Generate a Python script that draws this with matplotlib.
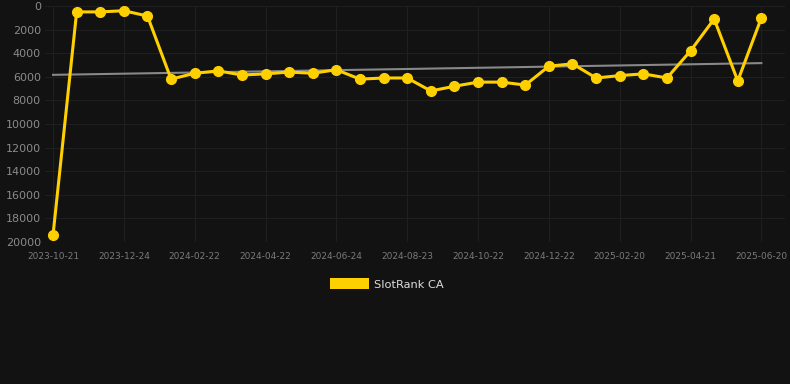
import numpy as np
import matplotlib
matplotlib.use("Agg")
import matplotlib.pyplot as plt
from matplotlib.patches import Patch

# one point roughly every 20 days, date label on every third point
tick_labels = ["2023-10-21", "2023-12-24", "2024-02-22", "2024-04-22", "2024-06-24",
               "2024-08-23", "2024-10-22", "2024-12-22", "2025-02-20", "2025-04-21",
               "2025-06-20"]
rank = [19400, 500, 500, 400, 850, 6200, 5700, 5500, 5850, 5750, 5600,
        5700, 5400, 6200, 6100, 6100, 7200, 6800, 6450, 6450, 6700, 5100,
        4900, 6100, 5900, 5750, 6100, 3800, 1100, 6350, 1000]
y_ticks = list(range(0, 20001, 2000))

bg = "#121212"
yellow = "#FFD000"

x = np.arange(len(rank))
slope, icpt = np.polyfit(x, rank, 1)

fig = plt.figure(figsize=(7.9, 3.84), dpi=100, facecolor=bg)
ax = fig.add_axes([45 / 790, 1 - 242 / 384, 740 / 790, 236 / 384])
ax.set_facecolor(bg)

ax.plot(x, slope * x + icpt, color="#888888", lw=1.5, zorder=2)
ax.plot(x, rank, color=yellow, lw=2.2, marker="o", ms=7, zorder=3)

ax.set_ylim(20000, 0)
ax.set_xlim(-0.34, 31.0)
ax.set_yticks(y_ticks)
ax.set_xticks(x[::3])
ax.set_xticklabels(tick_labels)

ax.grid(True, color="#1f1f1f", lw=0.8)
for s in ax.spines.values():
    s.set_visible(False)
ax.tick_params(axis="y", colors="#8a8a8a", labelsize=8, length=0, pad=3)
ax.tick_params(axis="x", colors="#7a7a7a", labelsize=6.5, length=0, pad=7)

leg = fig.legend(handles=[Patch(facecolor=yellow, label="SlotRank CA")],
                 loc="center", bbox_to_anchor=(0.49, 1 - 284 / 384),
                 frameon=False, fontsize=8.2, handlelength=3.4, handleheight=1.1,
                 handletextpad=0.5)
for t in leg.get_texts():
    t.set_color("#dddddd")

fig.savefig("out.png", facecolor=bg)
